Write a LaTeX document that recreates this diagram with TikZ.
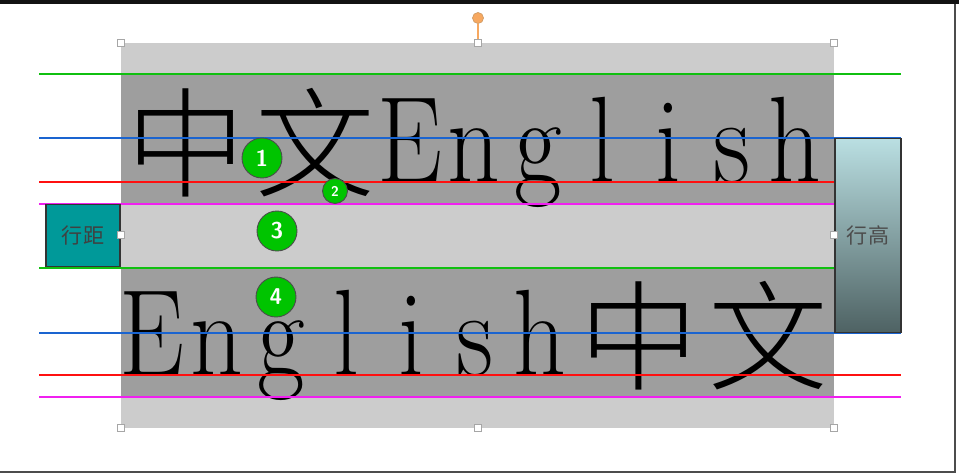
\documentclass[tikz,border=0pt]{standalone}
\usepackage{fontspec}
\usetikzlibrary{positioning}
\newfontfamily\cjk{Noto Sans CJK SC}
\newfontfamily\cjklight{Noto Sans CJK SC Light}
\definecolor{bandLight}{HTML}{CCCCCC}
\definecolor{bandDark}{HTML}{9E9E9E}
\definecolor{guideGreen}{HTML}{10C010}
\definecolor{guideBlue}{HTML}{1A64D0}
\definecolor{guideRed}{HTML}{FF1010}
\definecolor{guideMagenta}{HTML}{F020F0}
\definecolor{tealBox}{HTML}{009999}
\definecolor{gradTop}{HTML}{BADFE2}
\definecolor{gradBot}{HTML}{4E6263}
\definecolor{markGreen}{HTML}{00C400}
\definecolor{handleOrange}{HTML}{F7A860}

\begin{document}
\begin{tikzpicture}[x=0.02cm, y=-0.02cm,
    guide/.style={line width=1.3pt},
    glyph/.style={anchor=base, inner sep=0pt, font=\fontsize{70}{70}\selectfont},
    hanzi/.style={anchor=base, inner sep=0pt, font=\cjklight\fontsize{68}{68}\selectfont},
    marker/.style={circle, draw=black!70, line width=0.5pt, fill=markGreen,
                   minimum size=#1, inner sep=0pt, text=white, font=\sffamily\bfseries},
    handle/.style={rectangle, draw=gray!70, fill=white, line width=0.6pt,
                   minimum size=0.14cm, inner sep=0pt},
    label box/.style={rectangle, draw=black!80, line width=0.6pt, inner sep=0pt,
                   font=\cjk\fontsize{12}{12}\selectfont},
  ]
    \useasboundingbox (0,0) rectangle (959,474);
    \fill[white] (0,0) rectangle (959,474);
    \fill[black!93] (0,0) rectangle (959,4);
    \draw[black!70, line width=1.2pt] (0,472) -- (955,472) -- (955,4);

    \fill[bandLight] (121,43) rectangle (834,428);
    \fill[bandDark] (121,75) rectangle (834,204);
    \fill[bandDark] (121,268) rectangle (834,397);

    \node[hanzi] (top1) at (186,188) {中};
    \node[hanzi] (top2) at (315,188) {文};
    \foreach \ch/\cx [count=\k from 3] in {E/410, n/474, g/538, l/602, i/668, s/732, h/795}
      \node[glyph] (top\k) at (\cx,182) {\scalebox{0.84}[1]{\ch}};

    \foreach \ch/\cx [count=\k] in {E/152, n/217, g/281, l/346, i/411, s/475, h/540}
      \node[glyph] (bot\k) at (\cx,375) {\scalebox{0.84}[1]{\ch}};
    \node[hanzi] (bot8) at (639,381) {中};
    \node[hanzi] (bot9) at (768,381) {文};

    \foreach \gy in {74,268} \draw[guide, guideGreen] (39,\gy) -- (901,\gy);
    \foreach \gy in {138,333} \draw[guide, guideBlue] (39,\gy) -- (901,\gy);
    \foreach \gy in {182,375} \draw[guide, guideRed] (39,\gy) -- (901,\gy);
    \foreach \gy in {204,397} \draw[guide, guideMagenta] (39,\gy) -- (901,\gy);

    \node[label box, fill=tealBox, text=black!75, minimum width=1.48cm,
          minimum height=1.24cm] (spacing) at (83,235.5) {行距};
    \node[label box, top color=gradTop, bottom color=gradBot, text=black!70,
          minimum width=1.32cm, minimum height=3.88cm] (height) at (868,235.5) {行高};

    \node[marker=0.8cm, font=\sffamily\bfseries\fontsize{13}{13}\selectfont] (m1) at (262,158) {1};
    \node[marker=0.5cm, font=\sffamily\bfseries\fontsize{8}{8}\selectfont] (m2) at (335,191) {2};
    \node[marker=0.8cm, font=\sffamily\bfseries\fontsize{13}{13}\selectfont] (m3) at (277,231) {3};
    \node[marker=0.8cm, font=\sffamily\bfseries\fontsize{13}{13}\selectfont] (m4) at (276,297) {4};

    \foreach \hname/\hx/\hy in {hNW/121/43, hN/478/43, hNE/834/43, hW/121/235,
                                hE/834/235, hSW/121/428, hS/478/428, hSE/834/428}
      \node[handle] (\hname) at (\hx,\hy) {};
    \node[circle, fill=handleOrange, draw=orange!70!black!60, line width=0.4pt,
          minimum size=0.22cm, inner sep=0pt] (rot) at (478,18) {};
    \draw[handleOrange, line width=1pt] (rot) -- (hN);
  \end{tikzpicture}
\end{document}
